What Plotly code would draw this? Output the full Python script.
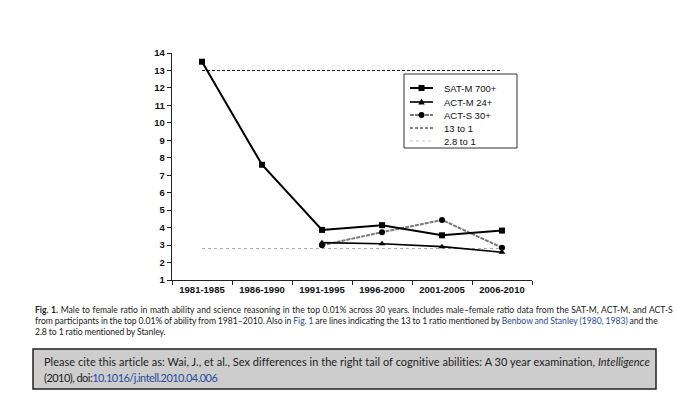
import plotly.graph_objects as go

periods = ["1981-1985", "1986-1990", "1991-1995", "1996-2000", "2001-2005", "2006-2010"]
sat_m = [13.5, 7.6, 3.87, 4.14, 3.56, 3.83]
act_m = [None, None, 3.14, 3.08, 2.91, 2.59]
act_s = [None, None, 2.99, 3.74, 4.44, 2.85]
ref_13 = [13, 13, 13, 13, 13, 13]
ref_28 = [2.8, 2.8, 2.8, 2.8, 2.8, 2.8]
y_ticks = list(range(1, 15))
legend_names = ["SAT-M 700+", "ACT-M 24+", "ACT-S 30+", "13 to 1", "2.8 to 1"]

W, H = 677, 397
L, R, T, B = 172, 532, 53, 280

def px(x):
    return (x - L) / (R - L)

def py(y):
    return (B - y) / (B - T)

fig = go.Figure()
fig.add_trace(go.Scatter(x=periods, y=ref_28, mode="lines",
                         line=dict(color="#a8a8a8", width=1, dash="dot"), showlegend=False))
fig.add_trace(go.Scatter(x=periods, y=ref_13, mode="lines",
                         line=dict(color="#111111", width=1, dash="3px,2px"), showlegend=False))
fig.add_trace(go.Scatter(x=periods, y=act_s, mode="lines+markers",
                         line=dict(color="#7a7a7a", width=2, dash="4px,1px"),
                         marker=dict(symbol="circle", size=6, color="#000000"), showlegend=False))
fig.add_trace(go.Scatter(x=periods, y=act_m, mode="lines+markers",
                         line=dict(color="#000000", width=1.6),
                         marker=dict(symbol="triangle-up", size=6, color="#000000"), showlegend=False))
fig.add_trace(go.Scatter(x=periods, y=sat_m, mode="lines+markers",
                         line=dict(color="#000000", width=2),
                         marker=dict(symbol="square", size=6, color="#000000"), showlegend=False))

shapes = []
annotations = []

# manual legend box
lx0, lx1, ly0, ly1 = 404, 517, 74, 148
shapes.append(dict(type="rect", xref="paper", yref="paper", x0=px(lx0), x1=px(lx1), y0=py(ly1), y1=py(ly0),
                   line=dict(color="#333333", width=1), fillcolor="white", layer="above"))
rows = [88, 102, 115, 128, 141]
styles = [
    dict(color="#000000", width=2, dash="solid"),
    dict(color="#000000", width=1.6, dash="solid"),
    dict(color="#7a7a7a", width=2, dash="4px,1px"),
    dict(color="#111111", width=1, dash="3px,2px"),
    dict(color="#c4c4c4", width=1, dash="dot"),
]
for name, yy, st in zip(legend_names, rows, styles):
    shapes.append(dict(type="line", xref="paper", yref="paper", x0=px(410), x1=px(433), y0=py(yy), y1=py(yy),
                       line=st, layer="above"))
    annotations.append(dict(text=name, xref="paper", yref="paper", x=px(442), y=py(yy), xanchor="left",
                            yanchor="middle", showarrow=False, font=dict(family="Arial, Liberation Sans", size=9.5, color="#111111")))
# legend markers
cx = 421.5
shapes.append(dict(type="rect", xref="paper", yref="paper", x0=px(cx - 3), x1=px(cx + 3), y0=py(rows[0] + 3), y1=py(rows[0] - 3),
                   fillcolor="black", line=dict(width=0), layer="above"))
shapes.append(dict(type="path", xref="paper", yref="paper",
                   path=f"M {px(cx-3.2)} {py(rows[1]+2.5)} L {px(cx+3.2)} {py(rows[1]+2.5)} L {px(cx)} {py(rows[1]-3.5)} Z",
                   fillcolor="black", line=dict(width=0), layer="above"))
shapes.append(dict(type="circle", xref="paper", yref="paper", x0=px(cx - 3), x1=px(cx + 3), y0=py(rows[2] + 3), y1=py(rows[2] - 3),
                   fillcolor="black", line=dict(width=0), layer="above"))

# caption (justified look via word-spacing)
blue = "#2a4b9b"
cap_lines = [
    (310, "word-spacing:0.4px", "<b>Fig. 1.</b> Male to female ratio in math ability and science reasoning in the top 0.01% across 30 years. Includes male–female ratio data from the SAT-M, ACT-M, and ACT-S"),
    (321, "word-spacing:-0.35px", f"from participants in the top 0.01% of ability from 1981–2010. Also in <span style='color:{blue}'>Fig. 1</span> are lines indicating the 13 to 1 ratio mentioned by <span style='color:{blue}'>Benbow and Stanley (1980, 1983)</span> and the"),
    (332, "letter-spacing:-0.1px", "2.8 to 1 ratio mentioned by Stanley."),
]
for yy, css, txt in cap_lines:
    annotations.append(dict(text=f"<span style='{css}'>{txt}</span>", xref="paper", yref="paper", x=px(33), y=py(yy),
                            xanchor="left", yanchor="middle", showarrow=False,
                            font=dict(family="Lato, Roboto, sans-serif", size=8.6, color="#222222")))

# citation box
shapes.append(dict(type="rect", xref="paper", yref="paper", x0=px(33), x1=px(656), y0=py(389), y1=py(349),
                   fillcolor="#cdcdcd", line=dict(color="#222222", width=1.5), layer="below"))
cite_font = dict(family="Lato, Roboto, sans-serif", size=10.95, color="#222222")
annotations.append(dict(text="<span style='letter-spacing:0.05px'>Please cite this article as: Wai, J., et al., Sex differences in the right tail of cognitive abilities: A 30 year examination, <i>Intelligence</i></span>",
                        xref="paper", yref="paper", x=px(42), y=py(361), xanchor="left", yanchor="middle", showarrow=False, font=cite_font))
annotations.append(dict(text=f"<span style='letter-spacing:-0.5px'>(2010), doi:<span style='color:{blue}'>10.1016/j.intell.2010.04.006</span></span>",
                        xref="paper", yref="paper", x=px(42), y=py(377), xanchor="left", yanchor="middle", showarrow=False, font=cite_font))

fig.update_layout(
    width=W, height=H,
    margin=dict(l=L, r=W - R, t=T, b=H - B, pad=0),
    paper_bgcolor="white", plot_bgcolor="white",
    showlegend=False,
    shapes=shapes, annotations=annotations,
    xaxis=dict(type="category", categoryorder="array", categoryarray=periods, range=[-0.5, 5.5],
               showline=True, linecolor="#222222", linewidth=1.2, showgrid=False, zeroline=False,
               ticks="outside", ticklen=4, tickcolor="#222222", tickson="boundaries",
               tickfont=dict(family="Arial, Liberation Sans", size=9.5, color="#111111", weight="bold")),
    yaxis=dict(range=[1, 14], tickvals=y_ticks, showline=True, linecolor="#222222", linewidth=1.2,
               showgrid=False, zeroline=False, ticks="outside", ticklen=4, tickcolor="#222222",
               tickfont=dict(family="Arial, Liberation Sans", size=9.5, color="#111111", weight="bold")),
)

fig.write_html("out.html", config={"displayModeBar": False, "staticPlot": True},
               post_script="document.body.style.margin='0';document.body.style.padding='0';document.body.style.overflow='hidden';")
